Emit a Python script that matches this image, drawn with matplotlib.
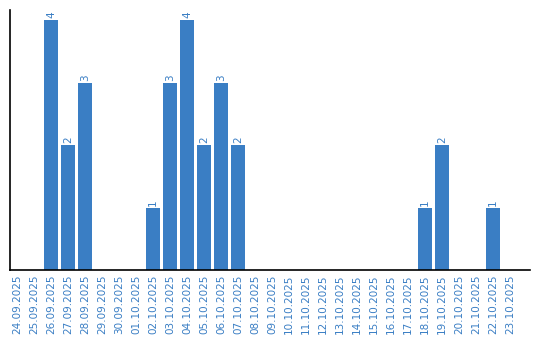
import numpy as np
import matplotlib
matplotlib.use("Agg")
import matplotlib.pyplot as plt

# dates and counts
dates = ["24.09.2025", "25.09.2025", "26.09.2025", "27.09.2025", "28.09.2025",
         "29.09.2025", "30.09.2025", "01.10.2025", "02.10.2025", "03.10.2025",
         "04.10.2025", "05.10.2025", "06.10.2025", "07.10.2025", "08.10.2025",
         "09.10.2025", "10.10.2025", "11.10.2025", "12.10.2025", "13.10.2025",
         "14.10.2025", "15.10.2025", "16.10.2025", "17.10.2025", "18.10.2025",
         "19.10.2025", "20.10.2025", "21.10.2025", "22.10.2025", "23.10.2025"]
counts = [0, 0, 4, 2, 3, 0, 0, 0, 1, 3, 4, 2, 3, 2, 0,
          0, 0, 0, 0, 0, 0, 0, 0, 0, 1, 2, 0, 0, 1, 0]

blue = "#3a7ec4"

fig = plt.figure(figsize=(5.4, 3.4), dpi=100)
ax = fig.add_axes([10/540, 70/340, 520/540, 260/340])

x = np.arange(len(dates))
ax.bar(x, counts, width=0.82, color=blue)

# value labels above bars
for xi, v in zip(x, counts):
    if v > 0:
        ax.text(xi, v + 0.03, str(v), rotation=90, ha="center", va="bottom",
                color=blue, fontsize=7.5)

ax.set_xlim(-0.41, 30.18)
ax.set_ylim(0, 4.16)
ax.set_xticks(x)
ax.set_xticklabels(dates, rotation=90, color=blue, fontsize=7.5)
ax.tick_params(axis="x", length=0, pad=3)
ax.set_yticks([])

ax.spines["top"].set_visible(False)
ax.spines["right"].set_visible(False)
ax.spines["left"].set_linewidth(1.2)
ax.spines["bottom"].set_linewidth(1.2)

fig.savefig("out.png", dpi=100)
